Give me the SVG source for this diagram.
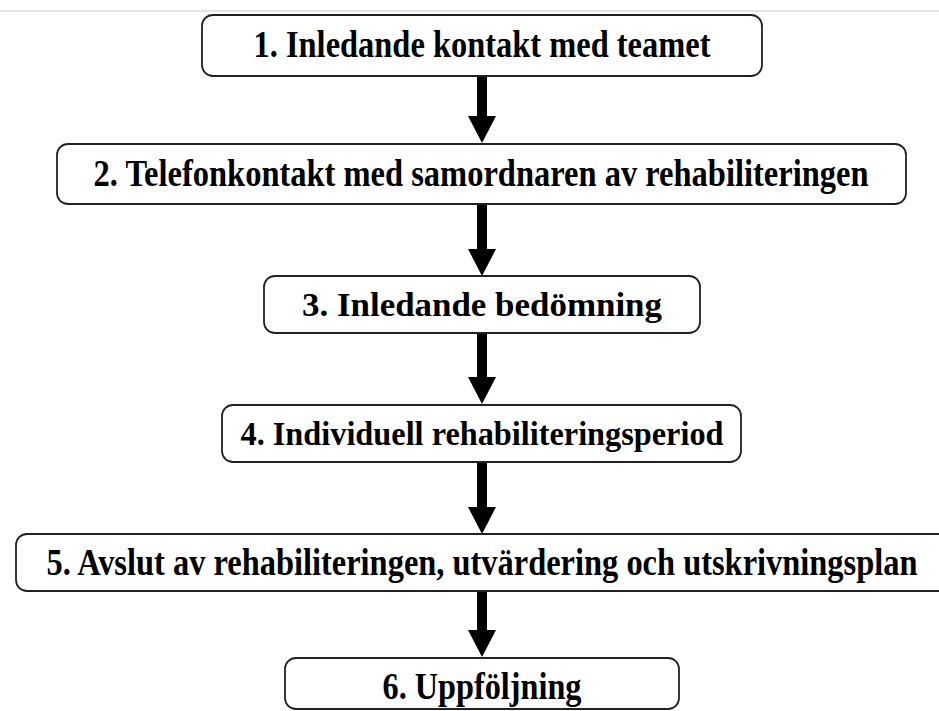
<svg xmlns="http://www.w3.org/2000/svg" width="939" height="711" viewBox="0 0 939 711">
<defs>
<marker id="ah" markerUnits="userSpaceOnUse" markerWidth="28" markerHeight="28" refX="1" refY="14" orient="auto" viewBox="0 0 28 28">
<path d="M0,0 L27,14 L0,28 Z" fill="#000"/>
</marker>
<style>
.box{fill:#fff;stroke:#222;stroke-width:1.8}
.lbl{font-family:"Liberation Serif","Times New Roman",serif;font-weight:bold;font-size:34px;fill:#000;text-anchor:middle}
.tall{font-size:38px}
.conn{stroke:#000;stroke-width:10;fill:none;marker-end:url(#ah)}
</style>
</defs>
<rect width="939" height="711" fill="#fff"/>
<line x1="0" y1="11" x2="939" y2="11" stroke="#d8d8d8" stroke-width="1.5"/>
<g id="connectors">
<line class="conn" x1="482" y1="76" x2="482" y2="117"/>
<line class="conn" x1="482" y1="204" x2="482" y2="250"/>
<line class="conn" x1="482" y1="333" x2="482" y2="378"/>
<line class="conn" x1="482" y1="462" x2="482" y2="508"/>
<line class="conn" x1="482" y1="591" x2="482" y2="631"/>
</g>
<g id="n1">
<rect class="box" x="202" y="15" width="560" height="61" rx="11"/>
<text class="lbl tall" x="482" y="57" textLength="457" lengthAdjust="spacingAndGlyphs">1. Inledande kontakt med teamet</text>
</g>
<g id="n2">
<rect class="box" x="57" y="144" width="849" height="60" rx="11"/>
<text class="lbl tall" x="481" y="186" textLength="775" lengthAdjust="spacingAndGlyphs">2. Telefonkontakt med samordnaren av rehabiliteringen</text>
</g>
<g id="n3">
<rect class="box" x="264" y="276" width="436" height="57" rx="11"/>
<text class="lbl" x="482" y="316" textLength="360" lengthAdjust="spacingAndGlyphs">3. Inledande bedömning</text>
</g>
<g id="n4">
<rect class="box" x="222" y="405" width="519" height="57" rx="11"/>
<text class="lbl" x="482" y="445" textLength="483" lengthAdjust="spacingAndGlyphs">4. Individuell rehabiliteringsperiod</text>
</g>
<g id="n5">
<rect class="box" x="16" y="534" width="940" height="57" rx="11"/>
<text class="lbl tall" x="482" y="575" textLength="871" lengthAdjust="spacingAndGlyphs">5. Avslut av rehabiliteringen, utvärdering och utskrivningsplan</text>
</g>
<g id="n6">
<rect class="box" x="285" y="658" width="394" height="51" rx="11"/>
<text class="lbl tall" x="482" y="699" textLength="199" lengthAdjust="spacingAndGlyphs">6. Uppföljning</text>
</g>
</svg>
